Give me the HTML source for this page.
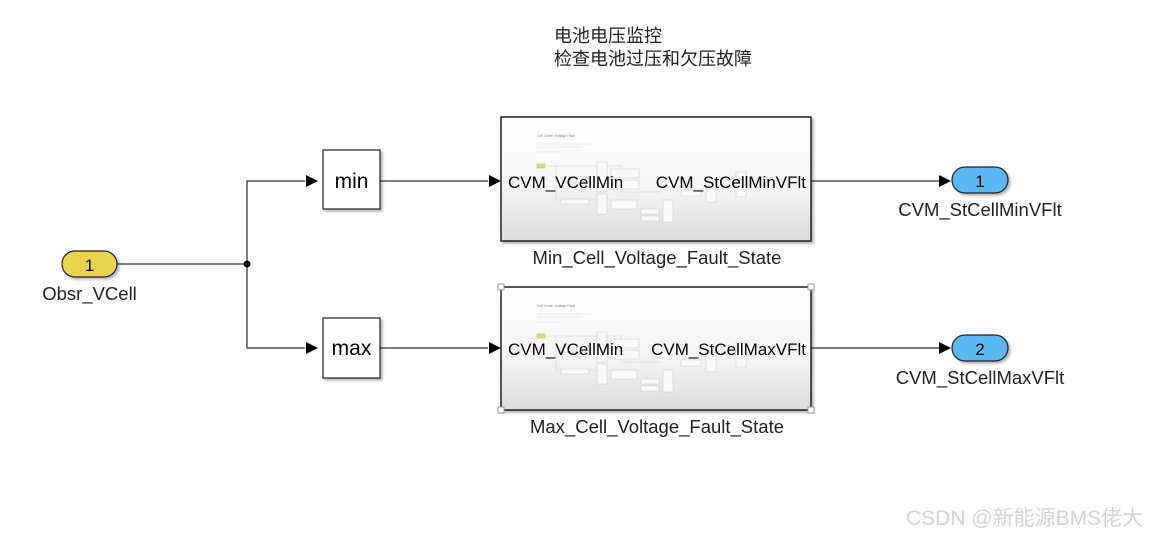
<!DOCTYPE html>
<html><head><meta charset="utf-8"><style>
html,body{margin:0;padding:0;background:#fff;}
svg{display:block;}
text{font-family:"Liberation Sans","Noto Sans CJK SC",sans-serif;}
</style></head><body>
<svg width="1149" height="537" viewBox="0 0 1149 537" xmlns="http://www.w3.org/2000/svg">
<defs>
<linearGradient id="g" x1="0" y1="0" x2="0" y2="1">
<stop offset="0" stop-color="#ffffff"/><stop offset="0.55" stop-color="#f6f6f6"/><stop offset="1" stop-color="#dcdcdc"/>
</linearGradient>
<filter id="sh" x="-10%" y="-10%" width="120%" height="130%"><feDropShadow dx="2" dy="2" stdDeviation="1.2" flood-color="#000" flood-opacity="0.3"/></filter>
<g id="inner" fill="#fafafa" stroke="#cfcfcf" stroke-width="0.6">
<text x="36" y="20" font-size="3.5" fill="#888" stroke="none">Cell Under-Voltage Fault</text>
<line x1="36" y1="27" x2="90" y2="27" stroke="#ddd"/>
<line x1="36" y1="30" x2="80" y2="30" stroke="#ddd"/>
<line x1="36" y1="35" x2="60" y2="35" stroke="#ddd"/>
<rect x="36" y="47" width="8" height="4" fill="#e8d888" stroke="#c9b860"/>
<polyline points="44,49 120,49 120,75 160,75" fill="none"/>
<polyline points="55,49 55,83 95,83" fill="none"/>
<rect x="60" y="60" width="28" height="5"/>
<rect x="60" y="82" width="28" height="5"/>
<rect x="96" y="45" width="10" height="30"/>
<rect x="96" y="77" width="10" height="20"/>
<rect x="110" y="52" width="28" height="9"/>
<rect x="110" y="63" width="28" height="9"/>
<rect x="110" y="83" width="26" height="9"/>
<rect x="140" y="92" width="18" height="5"/>
<rect x="140" y="99" width="18" height="5"/>
<rect x="162" y="83" width="10" height="22"/>
<rect x="180" y="73" width="20" height="6"/>
<rect x="205" y="65" width="10" height="20"/>
<rect x="235" y="55" width="10" height="25"/>
</g>
</defs>

<text x="554" y="42" font-size="18" fill="#222">电池电压监控</text>
<text x="554" y="65" font-size="18" fill="#222">检查电池过压和欠压故障</text>

<g stroke="#000" stroke-width="1" fill="none">
<line x1="117" y1="264" x2="247" y2="264"/>
<polyline points="305,181 247,181 247,348 305,348"/>
<line x1="380" y1="181" x2="488" y2="181"/>
<line x1="380" y1="348" x2="488" y2="348"/>
<line x1="811" y1="181" x2="939" y2="181"/>
<line x1="811" y1="348" x2="939" y2="348"/>
</g>
<circle cx="247" cy="264" r="3.5" fill="#000"/>
<g fill="#000">
<polygon points="306,175 318,181 306,187"/>
<polygon points="306,342 318,348 306,354"/>
<polygon points="489,175 501,181 489,187"/>
<polygon points="489,342 501,348 489,354"/>
<polygon points="939,175 951,181 939,187"/>
<polygon points="939,342 951,348 939,354"/>
</g>

<rect x="62" y="251" width="55" height="26" rx="13" fill="#e8d44d" stroke="#222" stroke-width="1.2" filter="url(#sh)"/>
<text x="89.5" y="271" font-size="17" text-anchor="middle" fill="#000">1</text>
<text x="89.5" y="300" font-size="18.5" text-anchor="middle" fill="#222">Obsr_VCell</text>

<rect x="323" y="150" width="57" height="59" fill="#fff" stroke="#222" stroke-width="1.2" filter="url(#sh)"/>
<text x="351.5" y="188" font-size="21" text-anchor="middle">min</text>
<rect x="323" y="318" width="57" height="60" fill="#fff" stroke="#222" stroke-width="1.2" filter="url(#sh)"/>
<text x="351.5" y="355" font-size="21" text-anchor="middle">max</text>

<rect x="501" y="117" width="310" height="124" fill="url(#g)" stroke="#222" stroke-width="1.5" filter="url(#sh)"/>
<use href="#inner" x="501" y="117"/>
<text x="508" y="188" font-size="17">CVM_VCellMin</text>
<text x="806" y="188" font-size="17" text-anchor="end">CVM_StCellMinVFlt</text>
<text x="657" y="264" font-size="18.5" text-anchor="middle" fill="#222">Min_Cell_Voltage_Fault_State</text>

<rect x="501" y="287" width="310" height="123" fill="url(#g)" stroke="#222" stroke-width="1.5" filter="url(#sh)"/>
<use href="#inner" x="501" y="287"/>
<g fill="#fff" stroke="#999" stroke-width="1">
<rect x="498" y="284" width="6" height="6"/><rect x="808" y="284" width="6" height="6"/>
<rect x="498" y="407" width="6" height="6"/><rect x="808" y="407" width="6" height="6"/>
</g>
<text x="508" y="355" font-size="17">CVM_VCellMin</text>
<text x="806" y="355" font-size="17" text-anchor="end">CVM_StCellMaxVFlt</text>
<text x="657" y="433" font-size="18.5" text-anchor="middle" fill="#222">Max_Cell_Voltage_Fault_State</text>

<rect x="952" y="167" width="56" height="26" rx="13" fill="#5bb8f5" stroke="#222" stroke-width="1.2" filter="url(#sh)"/>
<text x="980" y="187" font-size="17" text-anchor="middle">1</text>
<text x="980" y="216" font-size="18.5" text-anchor="middle" fill="#222">CVM_StCellMinVFlt</text>
<rect x="952" y="335" width="56" height="26" rx="13" fill="#5bb8f5" stroke="#222" stroke-width="1.2" filter="url(#sh)"/>
<text x="980" y="355" font-size="17" text-anchor="middle">2</text>
<text x="980" y="384" font-size="18.5" text-anchor="middle" fill="#222">CVM_StCellMaxVFlt</text>

<text x="906" y="525" font-size="21" fill="#d4d4d4">CSDN @新能源BMS佬大</text>
</svg>
</body></html>
